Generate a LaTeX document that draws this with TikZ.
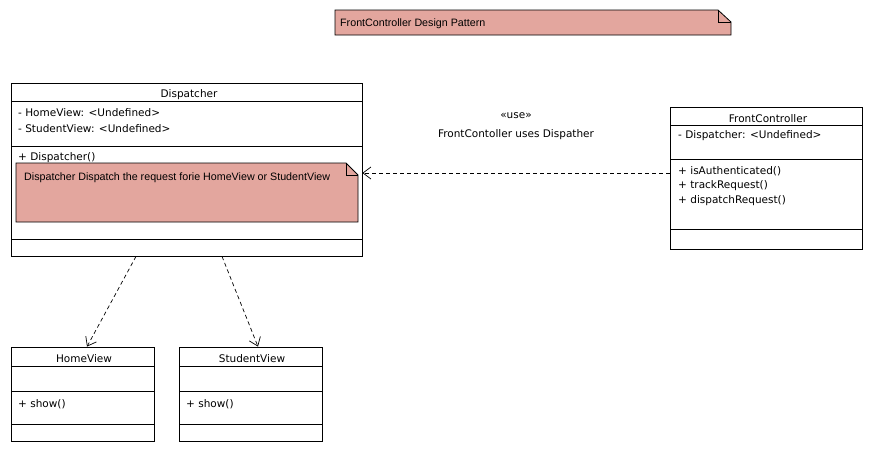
\documentclass[tikz,border=0pt]{standalone}
\usepackage{fontspec}
\setmainfont{DejaVu Sans}
\newfontfamily\notefont{Liberation Sans}
\usetikzlibrary{arrows.meta}
\definecolor{notered}{RGB}{227,166,158}
\tikzset{
  classbox/.style={draw, line width=0.8pt, inner sep=0pt},
  member/.style={anchor=west, inner sep=0pt, font=\fontsize{10.5}{12}\selectfont},
  title/.style={inner sep=0pt, font=\fontsize{10.5}{12}\selectfont},
  notetext/.style={anchor=west, inner sep=0pt, font=\notefont\fontsize{10.7}{12}\selectfont},
  notebox/.style={fill=notered, draw, line width=0.8pt, line join=miter},
  dep/.style={draw, line width=0.7pt, dash pattern=on 4pt off 3pt, -{Straight Barb[length=8pt,width=12pt]}}
}
\begin{document}
\begin{tikzpicture}[x=1pt,y=-1pt]
        \useasboundingbox (0,0) rectangle (873,453);

        % title note
        \path[notebox] (335,10) -- (718,10) -- (731,22) -- (731,35) -- (335,35) -- cycle;
        \draw[line width=0.8pt] (718,10) -- (718,22) -- (731,22);
        \node[notetext] (pattern) at (340,23.5) {FrontController Design Pattern};

        % Dispatcher
        \node[classbox, minimum width=351pt, minimum height=173pt] (disp) at (186.5,169.5) {};
        \draw[line width=0.8pt] (11,101) -- (362,101);
        \draw[line width=0.8pt] (11,146) -- (362,146);
        \draw[line width=0.8pt] (11,239) -- (362,239);
        \node[title] (dispname) at (189,94.5) {Dispatcher};
        \node[member] (dispa1) at (18,113) {- HomeView: <Undefined>};
        \node[member] (dispa2) at (18,129) {- StudentView: <Undefined>};
        \node[member] (dispo1) at (18,158) {+ Dispatcher()};
        \path[notebox] (16,163) -- (346,163) -- (358,175) -- (358,222) -- (16,222) -- cycle;
        \draw[line width=0.8pt] (346,163) -- (346,175) -- (358,175);
        \node[notetext] (dispnote) at (24,177.5) {Dispatcher Dispatch the request forie HomeView or StudentView};

        % FrontController
        \node[classbox, minimum width=192pt, minimum height=142pt] (fc) at (766,178) {};
        \draw[line width=0.8pt] (670,125) -- (862,125);
        \draw[line width=0.8pt] (670,159) -- (862,159);
        \draw[line width=0.8pt] (670,229) -- (862,229);
        \node[title] (fcname) at (768,118.5) {FrontController};
        \node[member] (fca1) at (678,136) {- Dispatcher: <Undefined>};
        \node[member] (fco1) at (678,171) {+ isAuthenticated()};
        \node[member] (fco2) at (678,186) {+ trackRequest()};
        \node[member] (fco3) at (678,201) {+ dispatchRequest()};

        % HomeView
        \node[classbox, minimum width=143pt, minimum height=94pt] (home) at (82.5,394) {};
        \draw[line width=0.8pt] (11,366) -- (154,366);
        \draw[line width=0.8pt] (11,391) -- (154,391);
        \draw[line width=0.8pt] (11,424) -- (154,424);
        \node[title] (homename) at (84,358.5) {HomeView};
        \node[member] (homeo1) at (18,404) {+ show()};

        % StudentView
        \node[classbox, minimum width=143pt, minimum height=94pt] (student) at (250.5,394) {};
        \draw[line width=0.8pt] (179,366) -- (322,366);
        \draw[line width=0.8pt] (179,391) -- (322,391);
        \draw[line width=0.8pt] (179,424) -- (322,424);
        \node[title] (studentname) at (252,358.5) {StudentView};
        \node[member] (studento1) at (186,404) {+ show()};

        % dependencies
        \draw[dep] ([yshift=5pt]fc.west) -- ([yshift=-3.5pt]disp.east);
        \node[title] (usestereo) at (516,116) {«use»};
        \node[title] (uselabel) at (516,135) {FrontContoller uses Dispather};
        \draw[dep] ([xshift=-50.5pt]disp.south) -- ([xshift=4.5pt]home.north);
        \draw[dep] ([xshift=35.5pt]disp.south) -- ([xshift=7.5pt]student.north);
\end{tikzpicture}
\end{document}
